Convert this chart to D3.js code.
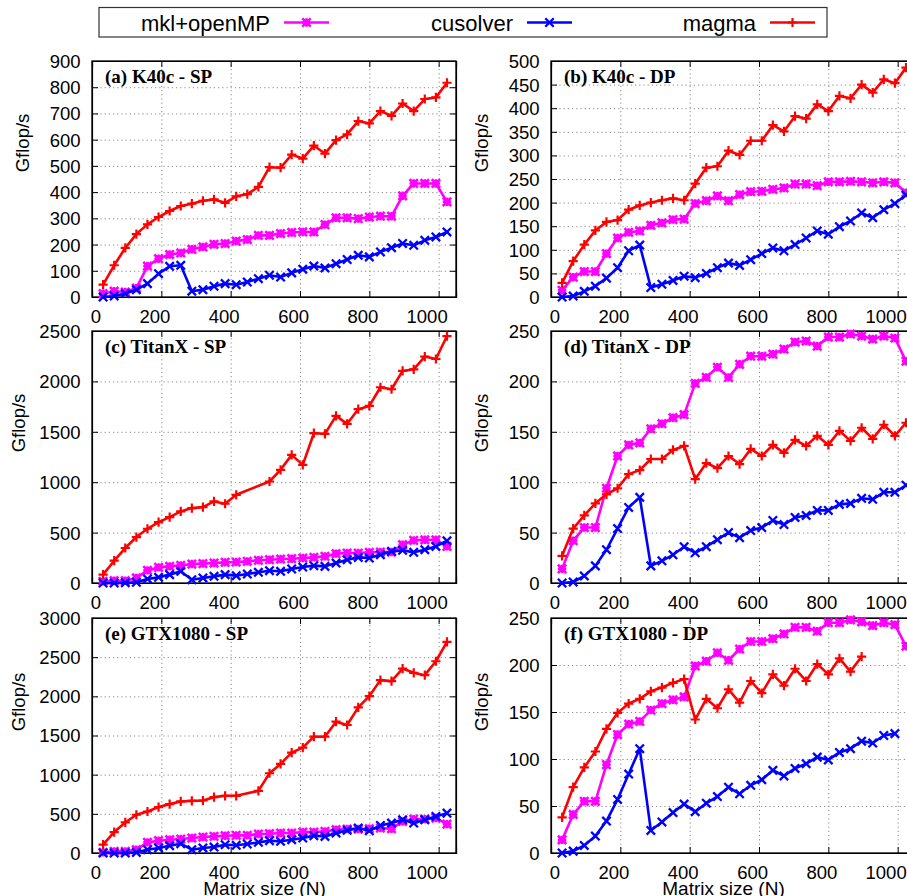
<!DOCTYPE html>
<html><head><meta charset="utf-8">
<script src="https://cdn.jsdelivr.net/npm/d3@7"></script>
<style>body{margin:0;background:#fff}svg{display:block}</style>
</head><body><svg id="c" width="907" height="896"></svg>
<script>
// ---------------- data ----------------
const N = [32,64,96,128,160,192,224,256,288,320,352,384,416,448,480,512,544,576,608,640,672,704,736,768,800,832,864,896,928,960,992,1024];
const seriesNames = ["mkl+openMP", "cusolver", "magma"];
const panelTitles = ["(a) K40c - SP", "(b) K40c - DP", "(c) TitanX - SP", "(d) TitanX - DP", "(e) GTX1080 - SP", "(f) GTX1080 - DP"];
const yTicksA = [0,100,200,300,400,500,600,700,800,900];
const yTicksB = [0,50,100,150,200,250,300,350,400,450,500];
const yTicksC = [0,500,1000,1500,2000,2500];
const yTicksD = [0,50,100,150,200,250];
const yTicksE = [0,500,1000,1500,2000,2500,3000];
const yTicksF = [0,50,100,150,200,250];
const xTicks = [0,200,400,600,800,1000];
const xLabel = "Matrix size (N)";
const yLabel = "Gflop/s";

const mkl_a = [13,22,19,34,118,146,162,168,182,191,201,204,213,219,235,235,242,246,248,248,276,302,302,299,305,308,308,386,433,433,433,363];
const cus_a = [0,4,13,28,51,89,117,121,22,28,41,51,47,57,70,83,76,92,106,118,111,127,143,159,153,172,188,204,197,216,229,248];
const mag_a = [47,121,187,240,277,305,328,347,356,367,372,359,384,392,420,495,493,543,528,577,547,598,620,671,662,709,691,738,709,755,761,817];

const mkl_b = [14,42,54,54,92,125,137,140,152,157,164,165,198,204,214,204,217,223,224,228,231,239,239,236,244,244,245,244,242,244,242,221];
const cus_b = [0,2,12,23,40,62,98,110,20,27,35,44,41,50,62,72,67,79,92,104,98,111,125,140,133,149,161,178,168,185,198,216];
const mag_b = [30,76,111,141,159,163,185,194,200,205,209,205,240,274,277,310,301,331,331,364,351,383,378,408,394,426,421,450,433,461,453,486];

const mkl_c = [17,23,23,50,125,155,165,175,188,192,198,205,208,215,225,231,238,241,248,254,264,291,297,297,304,307,307,380,423,429,429,363];
const cus_c = [0,0,3,7,40,56,83,116,33,50,66,83,73,89,106,122,116,139,158,172,165,198,231,254,248,281,314,324,304,330,363,419];
const mag_c = [83,221,347,456,538,604,654,710,743,753,809,786,875,null,null,1007,1123,1271,1172,1486,1480,1658,1579,1724,1757,1942,1922,2104,2120,2246,2222,2450];

const mkl_d = [14,42,55,55,94,126,137,139,153,158,164,167,198,204,214,204,217,225,225,227,232,239,240,235,244,244,247,245,242,245,243,220];
const cus_d = [0,1,7,17,33,54,75,85,17,22,28,36,30,36,43,50,45,52,55,62,58,65,67,72,72,78,79,84,83,90,90,97];
const mag_d = [27,54,67,79,88,94,108,112,123,123,132,136,103,119,114,126,118,133,126,137,129,142,136,146,137,151,141,154,143,157,146,159];

const mkl_e = [8,21,21,42,136,157,170,178,191,204,212,221,225,225,242,246,255,255,267,267,276,297,306,306,310,318,310,403,433,433,446,369];
const cus_e = [0,0,0,8,42,64,93,119,42,64,76,106,98,115,136,157,149,170,191,221,212,255,289,318,284,352,382,424,382,424,467,509];
const mag_e = [106,267,390,488,530,586,624,658,666,670,713,730,730,null,793,1018,1137,1281,1345,1485,1485,1676,1634,1859,2003,2207,2194,2355,2300,2270,2448,2695];

const mkl_f = [14,41,55,55,94,126,137,140,152,159,163,166,199,204,213,205,217,225,225,228,233,240,240,236,245,245,248,246,242,245,243,220];
const cus_f = [0,2,8,18,34,57,84,111,24,33,43,52,44,53,60,70,63,72,78,88,82,90,95,102,99,107,111,119,117,125,127,null];
const mag_f = [38,70,91,108,132,149,159,164,172,176,181,185,142,164,154,174,160,183,170,190,178,196,183,201,190,207,193,209,null,null,null,null];

// ---------------- layout / style ----------------
const colors = ["#ff00ff", "#0000ff", "#ff0000"];
const FONT = "'Liberation Sans', Arial, Helvetica, sans-serif";
const colLeft = [92, 551];
const plotW = 364;
const rows = [{top: 61, bottom: 297, ylc: 143}, {top: 331, bottom: 583, ylc: 423}, {top: 618, bottom: 853, ylc: 702}];

const panels = [
  {title: panelTitles[0], ticks: yTicksA, series: [mkl_a, cus_a, mag_a], col: 0, row: 0, ylx: 29},
  {title: panelTitles[1], ticks: yTicksB, series: [mkl_b, cus_b, mag_b], col: 1, row: 0, ylx: 488},
  {title: panelTitles[2], ticks: yTicksC, series: [mkl_c, cus_c, mag_c], col: 0, row: 1, ylx: 25},
  {title: panelTitles[3], ticks: yTicksD, series: [mkl_d, cus_d, mag_d], col: 1, row: 1, ylx: 488},
  {title: panelTitles[4], ticks: yTicksE, series: [mkl_e, cus_e, mag_e], col: 0, row: 2, ylx: 25, xlab: true},
  {title: panelTitles[5], ticks: yTicksF, series: [mkl_f, cus_f, mag_f], col: 1, row: 2, ylx: 488, xlab: true}
];

function markerPath(kind, s) {
  const plus = `M${-s},0H${s}M0,${-s}V${s}`;
  const cross = `M${-s},${-s}L${s},${s}M${-s},${s}L${s},${-s}`;
  if (kind === 0) return plus + cross;
  if (kind === 1) return cross;
  return plus;
}
const markerSize = [4.2, 4.2, 4.6];
const markerStroke = [2.6, 2.3, 2.2];

const svg = d3.select("#c");
svg.append("rect").attr("width", 907).attr("height", 896).attr("fill", "#fff");

panels.forEach(p => {
  const L = colLeft[p.col];
  const {top, bottom, ylc} = rows[p.row];
  const x = d3.scaleLinear().domain([0, 1050]).range([L, L + plotW]);
  const y = d3.scaleLinear().domain([0, p.ticks[p.ticks.length - 1]]).range([bottom, top]);
  const g = svg.append("g");

  // grid
  g.append("g").attr("transform", `translate(0,${bottom})`)
    .call(d3.axisBottom(x).tickValues(xTicks.filter(v => v > 0)).tickSize(-(bottom - top)).tickFormat(""))
    .call(a => a.select(".domain").remove())
    .selectAll("line").attr("stroke", "#8a8a8a").attr("stroke-width", 1).attr("stroke-dasharray", "1.2,3");
  g.append("g").attr("transform", `translate(${L},0)`)
    .call(d3.axisLeft(y).tickValues(p.ticks.slice(1, -1)).tickSize(-plotW).tickFormat(""))
    .call(a => a.select(".domain").remove())
    .selectAll("line").attr("stroke", "#8a8a8a").attr("stroke-width", 1).attr("stroke-dasharray", "1.2,3");

  // axes with inward ticks
  const ax = g.append("g").attr("transform", `translate(0,${bottom})`)
    .call(d3.axisBottom(x).tickValues(xTicks).tickSize(-6).tickFormat(d3.format("d")));
  ax.selectAll("text").attr("y", 25.5).attr("dy", 0).attr("x", 8.5).attr("text-anchor", "end");
  const ay = g.append("g").attr("transform", `translate(${L},0)`)
    .call(d3.axisLeft(y).tickValues(p.ticks).tickSize(-6).tickFormat(d3.format("d")));
  ay.selectAll("text").attr("x", -11.5).attr("dy", "0.35em");
  g.append("g").attr("transform", `translate(0,${top})`)
    .call(d3.axisTop(x).tickValues(xTicks).tickSize(-6).tickFormat(""));
  g.append("g").attr("transform", `translate(${L + plotW},0)`)
    .call(d3.axisRight(y).tickValues(p.ticks).tickSize(-6).tickFormat(""));
  g.selectAll(".tick text").attr("font-family", FONT).attr("font-size", 18.5).attr("fill", "#000");
  g.selectAll(".domain").attr("stroke", "#000").attr("stroke-width", 1.2);
  g.selectAll(".tick line").filter(function(){ return !this.getAttribute("stroke-dasharray"); })
    .attr("stroke", "#000").attr("stroke-width", 1);

  // frame
  g.append("rect").attr("x", L).attr("y", top).attr("width", plotW).attr("height", bottom - top)
    .attr("fill", "none").attr("stroke", "#000").attr("stroke-width", 1.3);

  // series
  const line = d3.line().x(d => x(d.n)).y(d => y(d.v));
  p.series.forEach((vals, si) => {
    const pts = N.map((n, i) => ({n, v: vals[i]})).filter(d => d.v != null);
    g.append("path").datum(pts).attr("d", line).attr("fill", "none")
      .attr("stroke", colors[si]).attr("stroke-width", 2.6).attr("stroke-linejoin", "round");
    g.selectAll(null).data(pts).enter().append("path")
      .attr("transform", d => `translate(${x(d.n)},${y(d.v)})`)
      .attr("d", markerPath(si, markerSize[si]))
      .attr("fill", "none").attr("stroke", colors[si]).attr("stroke-width", markerStroke[si]);
  });

  // title
  g.append("text").attr("x", L + 13).attr("y", top + 22).text(p.title)
    .attr("font-family", "'Liberation Serif', 'Times New Roman', serif").attr("font-weight", "bold")
    .attr("font-size", 19).attr("fill", "#000");

  // y label
  g.append("text").attr("transform", `translate(${p.ylx},${ylc}) rotate(-90)`)
    .attr("text-anchor", "middle").text(yLabel)
    .attr("font-family", FONT).attr("font-size", 18.5).attr("fill", "#000");

  if (p.xlab) {
    g.append("text").attr("x", L + 172.5).attr("y", 895).attr("text-anchor", "middle").text(xLabel)
      .attr("font-family", FONT).attr("font-size", 19).attr("fill", "#000");
  }
});

// legend
const lg = svg.append("g");
lg.append("rect").attr("x", 99).attr("y", 7.5).attr("width", 728).attr("height", 29.5)
  .attr("fill", "#fff").attr("stroke", "#333").attr("stroke-width", 1.2);
const legTextEnd = [270, 513, 756];
seriesNames.forEach((name, i) => {
  const te = legTextEnd[i];
  lg.append("text").attr("x", te).attr("y", 30.5).attr("text-anchor", "end").text(name)
    .attr("font-family", FONT).attr("font-size", 22).attr("fill", "#000");
  const x0 = te + 14, x1 = te + 59;
  lg.append("line").attr("x1", x0).attr("x2", x1).attr("y1", 22.5).attr("y2", 22.5)
    .attr("stroke", colors[i]).attr("stroke-width", 2.6);
  lg.append("path").attr("transform", `translate(${(x0 + x1) / 2},22.5)`)
    .attr("d", markerPath(i, markerSize[i])).attr("fill", "none")
    .attr("stroke", colors[i]).attr("stroke-width", markerStroke[i]);
});
</script>
</body></html>
